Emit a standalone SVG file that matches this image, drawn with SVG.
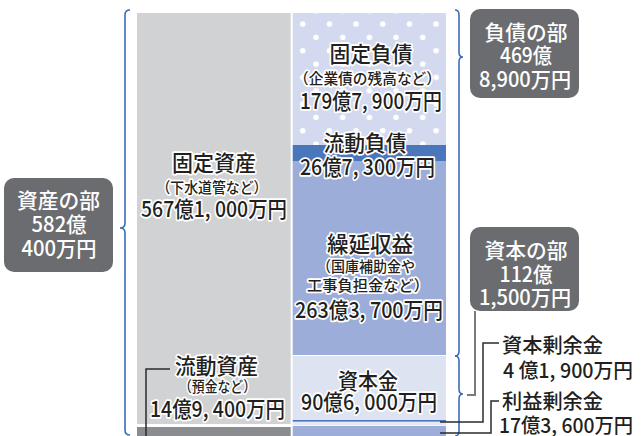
<svg xmlns="http://www.w3.org/2000/svg" width="644" height="436" viewBox="0 0 644 436">
<style>
text{font-family:"Noto Sans CJK JP","Noto Sans",sans-serif;font-weight:500;fill:#231f20;}
.h{stroke:#fff;stroke-width:3.5;stroke-linejoin:round;paint-order:stroke;}
.w{fill:#fff;font-size:21px;}
.big{font-size:22px;}
.sm{font-size:15px;}
.lb{font-size:20px;}
.box{fill:#6b6c6f;}
.brace{fill:none;stroke:#3b6db5;stroke-width:1.6;}
.lead{fill:none;stroke:#2b2b2b;stroke-width:1.5;}
.leadg{fill:none;stroke:#7a7b7e;stroke-width:2;}
</style>
<defs>
<pattern id="dots" patternUnits="userSpaceOnUse" x="0" y="17.33" width="26.667" height="26.667">
<rect width="26.667" height="26.667" fill="#d3d9ee"/>
<circle cx="9.4" cy="6.67" r="2.8" fill="#fff"/>
<circle cx="22.73" cy="20" r="2.8" fill="#fff"/>
</pattern>
</defs>
<rect width="644" height="436" fill="#fff"/>

<g id="assets-column">
<rect x="137" y="13" width="153.7" height="411" fill="#d1d2d4"/>
<rect x="137" y="427" width="153.7" height="9" fill="#8b8c8f"/>
</g>

<g id="liabilities-column">
<rect x="292.7" y="13" width="153.3" height="132" fill="url(#dots)"/>
<rect x="292.7" y="145" width="153.3" height="16" fill="#4a76bc"/>
<rect x="292.7" y="161" width="153.3" height="194" fill="#9badd8"/>
<rect x="292.7" y="356" width="153.3" height="64" fill="#dee3f2"/>
<rect x="292.7" y="420" width="153.3" height="1.8" fill="#4a76bc"/>
<rect x="292.7" y="421.8" width="153.3" height="3.6" fill="#e6e9f5"/>
<rect x="292.7" y="426" width="153.3" height="10" fill="#9badd8"/>
</g>

<g id="connectors">
<path class="brace" d="M130,10 Q125,10 125,15 L125,223 Q125,228 120,228 Q125,228 125,233 L125,430 Q125,435 130,435"/>
<path class="brace" d="M455,10 Q459,10 459,15 L459,52 Q459,57 463,57 Q459,57 459,62 L459,351 Q459,356 455,356"/>
<path class="brace" d="M455,356 Q459,356 459,361 L459,389 Q459,394 463,394 Q459,394 459,399 L459,431 Q459,436 455,436"/>
<path class="leadg" d="M475,311 V395 H467"/>
<path class="lead" d="M146,436 V369 H170"/>
<path class="lead" d="M440,422 H483 V343 H499"/>
<path class="lead" d="M440,433 H491 V401 H499"/>
</g>

<g id="fixed-assets">
<text class="h big" x="214" y="171" text-anchor="middle" textLength="84" lengthAdjust="spacingAndGlyphs">固定資産</text>
<text class="h sm" x="212" y="193" text-anchor="middle" textLength="111" lengthAdjust="spacingAndGlyphs">（下水道管など）</text>
<text class="h big" x="214" y="217" text-anchor="middle" textLength="146" lengthAdjust="spacingAndGlyphs">567億1, 000万円</text>
</g>

<g id="current-assets">
<text class="h big" x="216.5" y="374" text-anchor="middle" textLength="83" lengthAdjust="spacingAndGlyphs">流動資産</text>
<text class="h sm" x="217.5" y="392" text-anchor="middle" textLength="77" lengthAdjust="spacingAndGlyphs">（預金など）</text>
<text class="h big" x="217.5" y="417" text-anchor="middle" textLength="135" lengthAdjust="spacingAndGlyphs">14億9, 400万円</text>
</g>

<g id="fixed-liabilities">
<text class="h big" x="371" y="62" text-anchor="middle" textLength="83" lengthAdjust="spacingAndGlyphs">固定負債</text>
<text class="h sm" x="367.5" y="84" text-anchor="middle" textLength="147" lengthAdjust="spacingAndGlyphs">（企業債の残高など）</text>
<text class="h big" x="371" y="109" text-anchor="middle" textLength="142" lengthAdjust="spacingAndGlyphs">179億7, 900万円</text>
</g>

<g id="current-liabilities">
<text class="h big" x="365" y="151" text-anchor="middle" textLength="83" lengthAdjust="spacingAndGlyphs">流動負債</text>
<text class="h big" x="367.5" y="175" text-anchor="middle" textLength="135" lengthAdjust="spacingAndGlyphs">26億7, 300万円</text>
</g>

<g id="deferred-revenue">
<text class="h big" x="370" y="252" text-anchor="middle" textLength="86" lengthAdjust="spacingAndGlyphs">繰延収益</text>
<text class="h sm" x="366" y="272" text-anchor="middle" textLength="98" lengthAdjust="spacingAndGlyphs">（国庫補助金や</text>
<text class="h sm" x="368" y="291" text-anchor="middle" textLength="122" lengthAdjust="spacingAndGlyphs">工事負担金など）</text>
<text class="h big" x="369" y="318" text-anchor="middle" textLength="148" lengthAdjust="spacingAndGlyphs">263億3, 700万円</text>
</g>

<g id="capital-stock">
<text class="h big" x="368" y="389" text-anchor="middle" textLength="60" lengthAdjust="spacingAndGlyphs">資本金</text>
<text class="h big" x="369" y="410" text-anchor="middle" textLength="136" lengthAdjust="spacingAndGlyphs">90億6, 000万円</text>
</g>

<g id="assets-total">
<rect class="box" x="4" y="178" width="109" height="94" rx="10"/>
<text class="w" x="58.5" y="208" text-anchor="middle" textLength="83" lengthAdjust="spacingAndGlyphs">資産の部</text>
<text class="w" x="59" y="232" text-anchor="middle" textLength="55" lengthAdjust="spacingAndGlyphs">582億</text>
<text class="w" x="59" y="256" text-anchor="middle" textLength="75" lengthAdjust="spacingAndGlyphs">400万円</text>
</g>

<g id="liabilities-total">
<rect class="box" x="470" y="9" width="109" height="89" rx="10"/>
<text class="w" x="526" y="40" text-anchor="middle" textLength="83" lengthAdjust="spacingAndGlyphs">負債の部</text>
<text class="w" x="526" y="63" text-anchor="middle" textLength="52" lengthAdjust="spacingAndGlyphs">469億</text>
<text class="w" x="525" y="87" text-anchor="middle" textLength="92" lengthAdjust="spacingAndGlyphs">8,900万円</text>
</g>

<g id="capital-total">
<rect class="box" x="470" y="227" width="109" height="84" rx="10"/>
<text class="w" x="526" y="258" text-anchor="middle" textLength="83" lengthAdjust="spacingAndGlyphs">資本の部</text>
<text class="w" x="526" y="282" text-anchor="middle" textLength="53" lengthAdjust="spacingAndGlyphs">112億</text>
<text class="w" x="525" y="305" text-anchor="middle" textLength="92" lengthAdjust="spacingAndGlyphs">1,500万円</text>
</g>

<g id="capital-surplus">
<text class="lb" x="502" y="353" textLength="101" lengthAdjust="spacingAndGlyphs">資本剰余金</text>
<text class="lb" x="503" y="378" textLength="130" lengthAdjust="spacingAndGlyphs">4 億1, 900万円</text>
</g>

<g id="retained-earnings">
<text class="lb" x="502" y="409" textLength="101" lengthAdjust="spacingAndGlyphs">利益剰余金</text>
<text class="lb" x="499" y="433" textLength="134" lengthAdjust="spacingAndGlyphs">17億3, 600万円</text>
</g>
</svg>
